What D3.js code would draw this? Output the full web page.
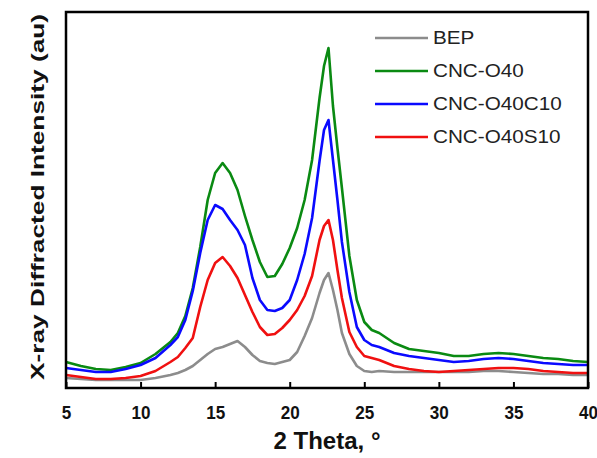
<!DOCTYPE html>
<html>
<head>
<meta charset="utf-8">
<script src="https://cdn.jsdelivr.net/npm/d3@7"></script>
<style>
  body { margin: 0; background: #fff; }
  svg { display: block; font-family: "Liberation Sans", Arial, sans-serif; }
</style>
</head>
<body>
<svg id="chart" width="597" height="458"></svg>
<script>
// 2 theta positions (degrees)
const theta = [5, 6, 7, 8, 9, 10, 11, 12, 12.5, 13, 13.5, 14, 14.5, 15, 15.5, 16, 16.5, 17, 17.5, 18, 18.5, 19, 19.5, 20, 20.5, 21, 21.5, 22, 22.3, 22.6, 22.9, 23.2, 23.5, 24, 24.5, 25, 25.5, 26, 27, 28, 29, 30, 31, 32, 33, 34, 35, 36, 37, 38, 39, 40];

// intensities (arbitrary units)
const bep = [10, 9, 8, 8, 8, 8, 10, 13, 15, 18, 22, 28, 34, 39, 41, 44, 47, 41, 33, 27, 25, 24, 26, 28, 36, 52, 70, 95, 108, 115, 98, 78, 55, 34, 22, 17, 16, 17, 16, 16, 16, 16, 16, 16, 17, 17, 16, 15, 14, 14, 13, 13];
const cncO40 = [26, 22, 19, 18, 21, 25, 34, 46, 55, 72, 100, 141, 188, 215, 225, 215, 198, 172, 148, 126, 111, 112, 124, 140, 160, 188, 228, 290, 322, 340, 282, 240, 200, 132, 88, 66, 58, 55, 45, 39, 37, 35, 32, 32, 34, 35, 34, 32, 30, 29, 27, 26];
const cncO40C10 = [20, 18, 16, 16, 19, 23, 30, 43, 51, 68, 97, 135, 168, 183, 179, 168, 158, 143, 110, 88, 78, 77, 80, 88, 108, 134, 170, 227, 258, 268, 228, 188, 146, 96, 61, 48, 43, 41, 35, 32, 30, 28, 26, 27, 29, 30, 29, 27, 25, 24, 23, 23];
const cncO40S10 = [13, 11, 9, 9, 10, 12, 17, 26, 31, 40, 50, 81, 108, 125, 131, 122, 110, 93, 76, 61, 53, 54, 60, 68, 78, 92, 112, 148, 162, 168, 148, 118, 90, 56, 41, 32, 30, 28, 22, 19, 17, 16, 17, 18, 19, 20, 20, 19, 17, 16, 15, 15];

const seriesNames = ["BEP", "CNC-O40", "CNC-O40C10", "CNC-O40S10"];
const seriesValues = [bep, cncO40, cncO40C10, cncO40S10];
const seriesColors = ["#8c8c8c", "#0a8a12", "#0a0aff", "#f01010"];
const xTicks = [5, 10, 15, 20, 25, 30, 35, 40];

const svg = d3.select("#chart");
const plot = { left: 66, right: 588, top: 12, bottom: 388 };

const x = d3.scaleLinear().domain([5, 40]).range([plot.left, plot.right]);
const y = d3.scaleLinear().domain([0, 376]).range([plot.bottom, plot.top]);

const line = d3.line()
    .x((d) => x(d[0]))
    .y((d) => y(d[1]));

// draw order: grey first, red last
seriesValues.forEach((vals, i) => {
    const pts = theta.map((t, j) => [t, vals[j]]);
    svg.append("path")
        .datum(pts)
        .attr("fill", "none")
        .attr("stroke", seriesColors[i])
        .attr("stroke-width", 2.6)
        .attr("stroke-linejoin", "round")
        .attr("d", line);
});

// frame
svg.append("rect")
    .attr("x", plot.left)
    .attr("y", plot.top)
    .attr("width", plot.right - plot.left)
    .attr("height", plot.bottom - plot.top)
    .attr("fill", "none")
    .attr("stroke", "#000")
    .attr("stroke-width", 2.5);

// bottom axis, ticks pointing inward
const xAxis = d3.axisBottom(x)
    .tickValues(xTicks)
    .tickSizeInner(-6)
    .tickSizeOuter(0)
    .tickPadding(18);

const gx = svg.append("g")
    .attr("transform", `translate(0,${plot.bottom})`)
    .call(xAxis);
gx.select(".domain").remove();
gx.selectAll(".tick line").attr("stroke", "#000").attr("stroke-width", 2);
gx.selectAll(".tick text")
    .attr("fill", "#111")
    .attr("transform", "scale(0.9,1)")
    .style("font-size", "19px")
    .style("font-weight", "bold")
    .style("font-family", "'Liberation Sans', Arial, sans-serif");

// axis titles
svg.append("text")
    .attr("x", (plot.left + plot.right) / 2)
    .attr("y", 449)
    .attr("text-anchor", "middle")
    .style("font-size", "24px")
    .style("font-weight", "bold")
    .attr("fill", "#111")
    .text("2 Theta, °");

svg.append("text")
    .attr("transform", `translate(44,197) rotate(-90)`)
    .attr("text-anchor", "middle")
    .attr("textLength", 366)
    .attr("lengthAdjust", "spacingAndGlyphs")
    .style("font-size", "19px")
    .style("font-weight", "bold")
    .attr("fill", "#111")
    .text("X-ray Diffracted Intensity (au)");

// legend
const legend = svg.append("g").attr("transform", "translate(375,38)");
seriesNames.forEach((name, i) => {
    const row = legend.append("g").attr("transform", `translate(0,${i * 33})`);
    row.append("line")
        .attr("x1", 0).attr("x2", 53)
        .attr("stroke", seriesColors[i])
        .attr("stroke-width", 2.5);
    row.append("text")
        .attr("transform", "translate(58,6) scale(1.15,1)")
        .style("font-size", "18px")
        .attr("fill", "#222")
        .text(name);
});
</script>
</body>
</html>
